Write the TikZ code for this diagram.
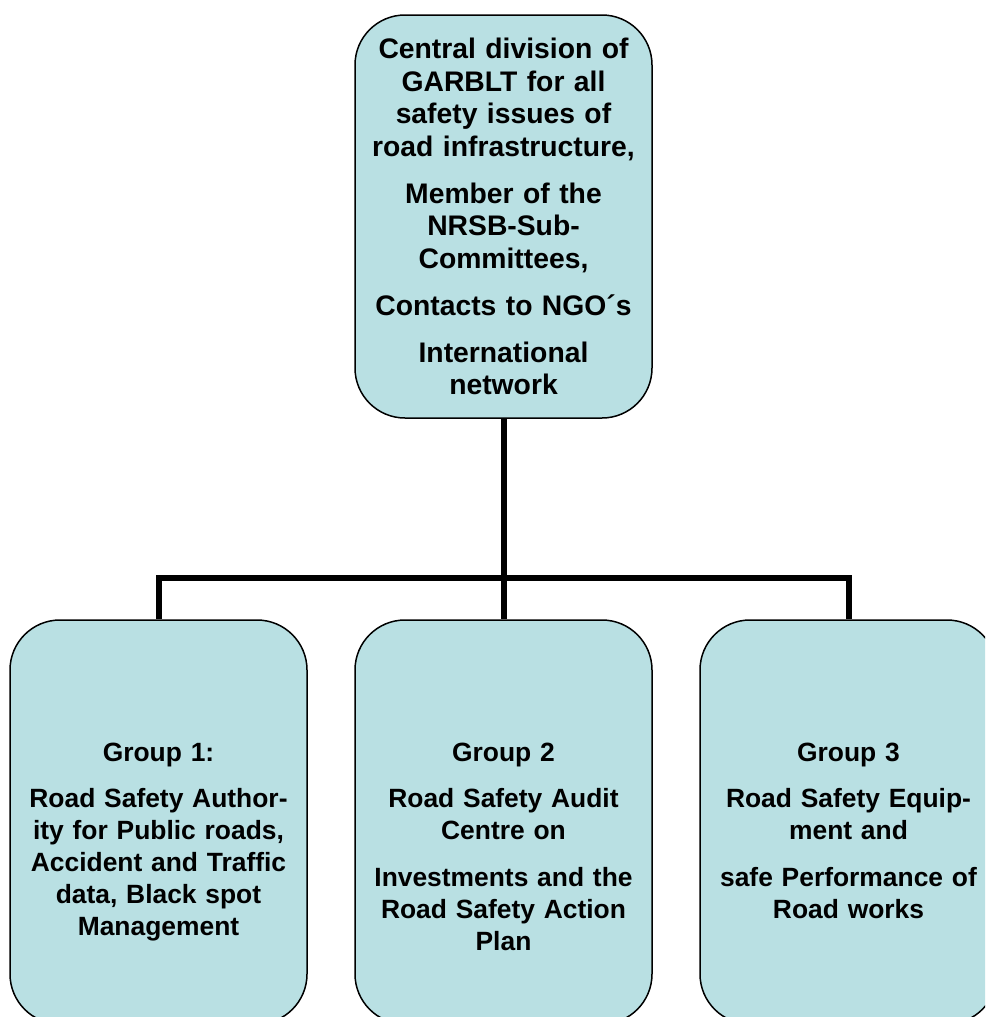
\documentclass[tikz,border=0pt]{standalone}
\usepackage{fontspec}
\setmainfont{Liberation Sans}
\usepackage{tikz}
\usetikzlibrary{positioning}
\definecolor{boxfill}{RGB}{185,224,227}
\tikzstyle{unit}=[draw=black,line width=1.5pt,fill=boxfill,rounded corners=50pt,
  minimum width=297pt,align=center,inner sep=0pt]
\tikzstyle{headtext}=[text width=280pt,align=center,
  font=\fontsize{28.3}{32.7}\selectfont\bfseries]
\tikzstyle{grouptext}=[text width=280pt,align=center,inner sep=0pt,
  font=\fontsize{26.4}{32}\selectfont\bfseries]
\tikzstyle{link} = [draw,line width=6pt,-]

\begin{document}
\begin{tikzpicture}[x=1pt,y=-1pt]
      \useasboundingbox (0,0) rectangle (985,1017);
      \clip (0,0) rectangle (985,1017);
      \node[unit,headtext,minimum height=403pt] (head) at (503.5,216.5)
        {Central division of\\ GARBLT for all\\ safety issues of\\ road infrastructure,\\[14pt]
         Member of the\\ NRSB-Sub-\\ Committees,\\[14pt]
         Contacts to NGO´s\\[14pt]
         International\\ network};
      \coordinate (bus) at (503.5,578);
      \node[unit,minimum height=404pt] (g1) at (158.5,822) {};
      \node[unit,minimum height=404pt] (g2) at (503.5,822) {};
      \node[unit,minimum height=404pt] (g3) at (848.5,822) {};
      \node[grouptext,below=124pt of g1.north] (t1)
        {Group 1:\\[14pt]
         Road Safety Author-\\ ity for Public roads,\\ Accident and Traffic\\ data, Black spot\\ Management};
      \node[grouptext,below=124pt of g2.north] (t2)
        {Group 2\\[14pt]
         Road Safety Audit\\ Centre on\\[15pt]
         Investments and the\\ Road Safety Action\\ Plan};
      \node[grouptext,below=124pt of g3.north] (t3)
        {Group 3\\[14pt]
         Road Safety Equip-\\ ment and\\[15pt]
         safe Performance of\\ Road works};
      \draw[link] (head) -- (bus);
      \draw[link] (bus) -| (g1);
      \draw[link] (bus) -- (g2);
      \draw[link] (bus) -| (g3);
  \end{tikzpicture}
\end{document}
